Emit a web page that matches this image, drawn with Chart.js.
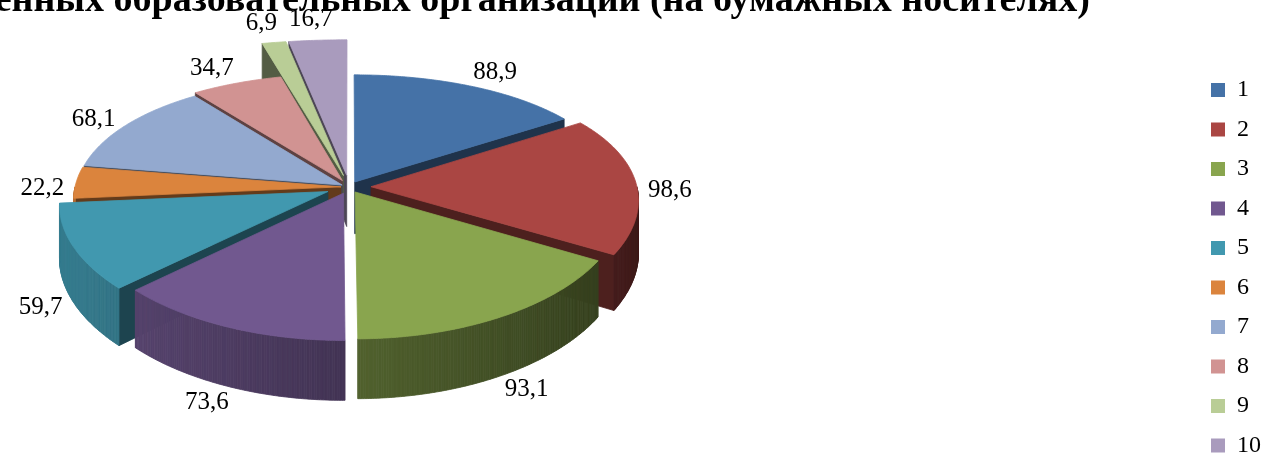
<!DOCTYPE html>
<html lang="ru">
<head>
<meta charset="utf-8">
<script src="https://cdn.jsdelivr.net/npm/chart.js@4.4.1/dist/chart.umd.min.js"></script>
<style>
  html, body { margin: 0; padding: 0; background: #fff; overflow: hidden; }
  #grafico { display: block; }
</style>
</head>
<body>
<canvas id="grafico" width="1265" height="478"></canvas>
<script>
const categorias = ['1', '2', '3', '4', '5', '6', '7', '8', '9', '10'];
const valores = [88.9, 98.6, 93.1, 73.6, 59.7, 22.2, 68.1, 34.7, 6.9, 16.7];
const titulo = 'Количество подведомственных образовательных организаций (на бумажных носителях)';

// estilo
const colores = ['#4572A7', '#AA4643', '#89A54E', '#71588F', '#4198AF',
                 '#DB843D', '#93A9CF', '#D19392', '#B9CD96', '#A99BBD'];
const desplazamientos = [12, 22, 12, 14, 23, 8, 8, 15, 25, 25];
const escalaRadio = [1, 1, 1, 1, 1, 1, 1, 1, 1.38, 1.38];
const fuente = '"Liberation Serif", "Times New Roman", serif';

// vista "3D" del pastel
const vista = { cx: 349, cy: 187, radio: 266, k: 0.4775, persp: 0.145, perspX: 0.1, prof: 52 };

function proyectar(px, py, z) {
  const t = py / vista.radio;
  const f = 1 + vista.persp * t;
  return [vista.cx + px * (1 + vista.perspX * t), vista.cy + py * vista.k * f + z * f];
}

function sombra(hex, b) {
  const n = parseInt(hex.slice(1), 16);
  const r = Math.round(((n >> 16) & 255) * b);
  const g = Math.round(((n >> 8) & 255) * b);
  const a = Math.round((n & 255) * b);
  return `rgb(${r},${g},${a})`;
}

function poligono(ctx, pts, color) {
  ctx.beginPath();
  pts.forEach((p, j) => j ? ctx.lineTo(p[0], p[1]) : ctx.moveTo(p[0], p[1]));
  ctx.closePath();
  ctx.fillStyle = color;
  ctx.strokeStyle = color;
  ctx.lineWidth = 0.8;
  ctx.fill();
  ctx.stroke();
}

function porcionDesde(arco, i) {
  const { startAngle, endAngle } = arco.getProps(['startAngle', 'endAngle'], true);
  const medio = (startAngle + endAngle) / 2;
  const off = arco.options.offset || 0;
  return {
    i, ini: startAngle, fin: endAngle, medio, off,
    ox: Math.cos(medio) * off, oy: Math.sin(medio) * off,
    r: vista.radio * escalaRadio[i]
  };
}

function dibujarPorcion(ctx, p) {
  const color = colores[p.i];
  const D = vista.prof;
  const pt = (a, z) => proyectar(p.ox + Math.cos(a) * p.r, p.oy + Math.sin(a) * p.r, z);
  const centro = z => proyectar(p.ox, p.oy, z);
  const paso = Math.PI / 360;

  // caras radiales
  [[p.ini, -1], [p.fin, 1]].forEach(([a, s]) => {
    const ny = s > 0 ? Math.cos(a) : -Math.cos(a);
    if (ny <= 0.01) return;
    poligono(ctx, [centro(0), pt(a, 0), pt(a, D), centro(D)], sombra(color, 0.45));
  });

  // pared exterior (solo la parte de adelante)
  const a0 = Math.max(p.ini, 0), a1 = Math.min(p.fin, Math.PI);
  for (let a = a0; a < a1; a += paso) {
    const b = Math.min(a + paso, a1);
    const brillo = 0.36 + 0.46 * (1 - Math.cos((a + b) / 2)) / 2;
    poligono(ctx, [pt(a, 0), pt(b, 0), pt(b, D), pt(a, D)], sombra(color, brillo));
  }

  // cara superior
  const tapa = [centro(0)];
  for (let a = p.ini; a < p.fin; a += paso) tapa.push(pt(a, 0));
  tapa.push(pt(p.fin, 0));
  poligono(ctx, tapa, color);
}

const pastel3d = {
  id: 'pastel3d',
  beforeDatasetsDraw(chart) {
    const ctx = chart.ctx;
    const porciones = chart.getDatasetMeta(0).data.map(porcionDesde);
    porciones.sort((a, b) => Math.sin(a.medio) - Math.sin(b.medio));
    ctx.save();
    porciones.forEach(p => dibujarPorcion(ctx, p));
    ctx.restore();
    return false;
  },
  afterDraw(chart) {
    const ctx = chart.ctx;
    ctx.save();
    // etiquetas de valores, fuera del borde de cada porcion
    ctx.font = '25px ' + fuente;
    ctx.fillStyle = '#000';
    ctx.textAlign = 'center';
    ctx.textBaseline = 'middle';
    chart.getDatasetMeta(0).data.forEach((arco, i) => {
      const p = porcionDesde(arco, i);
      const txt = String(valores[i]).replace('.', ',');
      const w = ctx.measureText(txt).width;
      const c = Math.cos(p.medio), s = Math.sin(p.medio);
      const r = p.r + p.off;
      const z = vista.prof * Math.min(1, Math.max(0, (s + 0.1) / 0.5));
      const [x, y] = proyectar(c * r, s * r, z);
      // direccion en pantalla
      const [x0, y0] = proyectar(0, 0, z);
      const len = Math.hypot(x - x0, y - y0);
      const dx = (x - x0) / len, dy = (y - y0) / len;
      ctx.fillText(txt, x + dx * (w / 2 + 12), y + dy * 21);
    });
    // titulo (cortado arriba)
    ctx.font = 'bold 38px ' + fuente;
    ctx.textAlign = 'right';
    ctx.textBaseline = 'alphabetic';
    ctx.fillText(titulo, 1090, 11);
    ctx.restore();
  }
};

new Chart(document.getElementById('grafico'), {
  type: 'pie',
  data: {
    labels: categorias,
    datasets: [{
      data: valores,
      backgroundColor: colores,
      borderWidth: 0,
      offset: desplazamientos
    }]
  },
  options: {
    responsive: false,
    animation: false,
    events: [],
    layout: { padding: { top: 62.5, right: -6 } },
    plugins: {
      tooltip: { enabled: false },
      legend: {
        position: 'right',
        align: 'start',
        labels: {
          boxWidth: 14,
          boxHeight: 14,
          padding: 15.5,
          color: '#000',
          font: { family: fuente, size: 24 }
        }
      }
    }
  },
  plugins: [pastel3d]
});
</script>
</body>
</html>
